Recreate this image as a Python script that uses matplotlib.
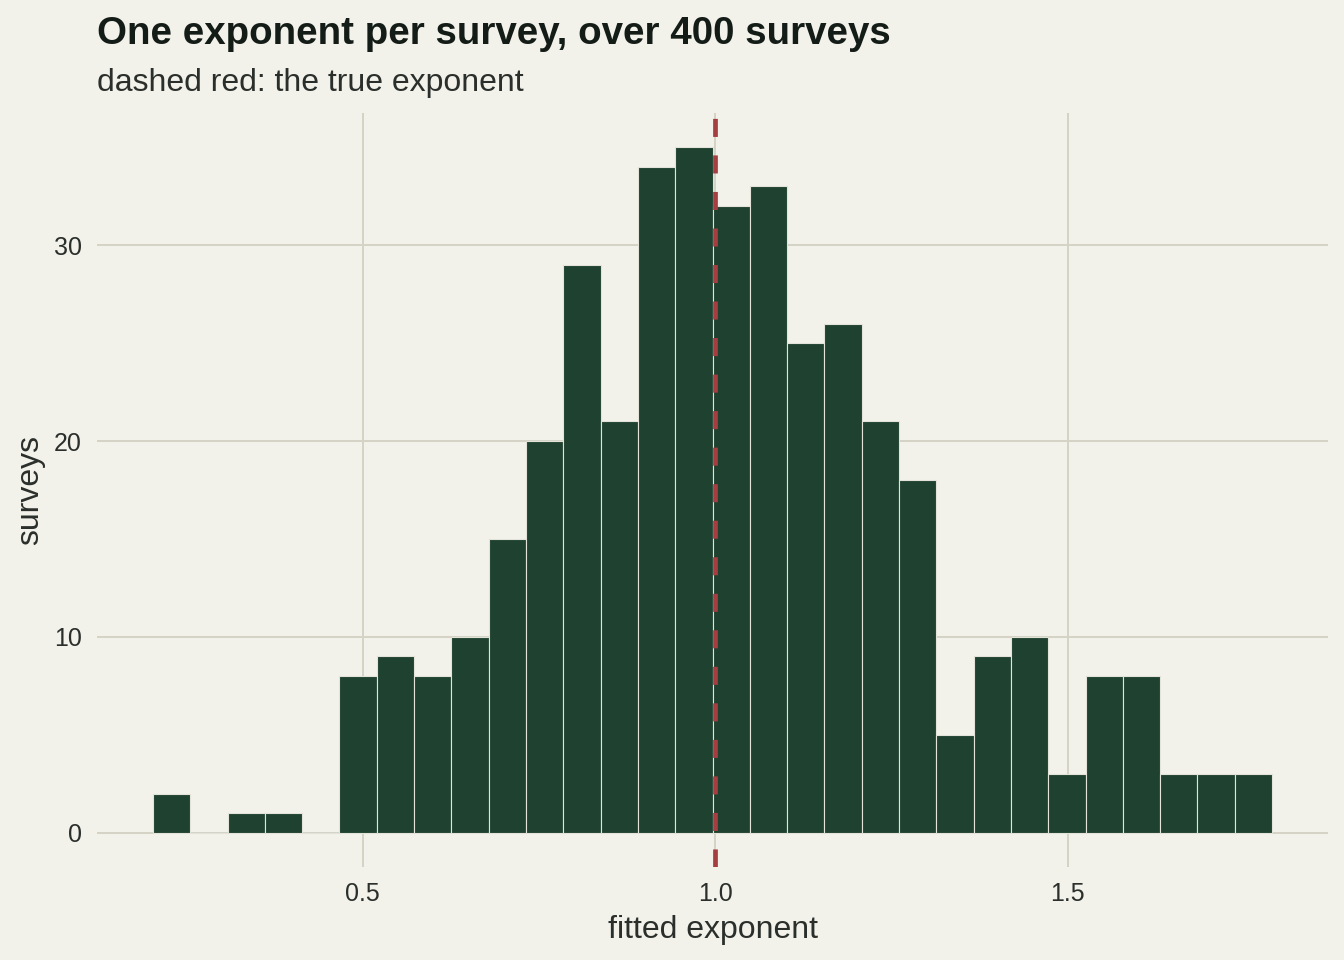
import matplotlib
matplotlib.use("Agg")
import matplotlib.pyplot as plt
import numpy as np

# histogram: 30 bins, 400 surveys
bin_start = 0.2022
bin_width = 0.05293
counts = [2, 0, 1, 1, 0, 8, 9, 8, 10, 15,
          20, 29, 21, 34, 35, 32, 33, 25, 26, 21,
          18, 5, 9, 10, 3, 8, 8, 3, 3, 3]
true_exponent = 1.0
x_ticks = [0.5, 1.0, 1.5]
y_ticks = [0, 10, 20, 30]

title = "One exponent per survey, over 400 surveys"
subtitle = "dashed red: the true exponent"
x_label = "fitted exponent"
y_label = "surveys"

bg = "#F2F1EA"
bar_col = "#1F4130"
grid_col = "#D4D3C5"
red = "#A63D40"
txt_dark = "#141C17"
txt = "#2A2F2B"

plt.rcParams['font.family'] = ['Liberation Sans', 'DejaVu Sans']
plt.rcParams['lines.scale_dashes'] = False

fig = plt.figure(figsize=(13.44, 9.6), dpi=100, facecolor=bg)
ax = fig.add_axes([97 / 1344, 1 - 867 / 960, (1328 - 97) / 1344, (867 - 113) / 960])
ax.set_facecolor(bg)

edges = bin_start + bin_width * np.arange(len(counts) + 1)
ax.bar(edges[:-1], counts, width=bin_width, align='edge', color=bar_col,
       edgecolor='#E4E3D9', linewidth=0.8, zorder=2)

ax.axvline(true_exponent, color=red, linewidth=3.4, dashes=(13, 13.3), zorder=3)

# ggplot-like 5% expansion
span = edges[-1] - edges[0]
ax.set_xlim(edges[0] - 0.05 * span, edges[-1] + 0.05 * span)
ax.set_ylim(-0.05 * max(counts), 1.05 * max(counts))

ax.set_xticks(x_ticks)
ax.set_xticklabels([f"{v:.1f}" for v in x_ticks])
ax.set_yticks(y_ticks)
ax.grid(True, color=grid_col, linewidth=1.4, zorder=0)
ax.set_axisbelow(True)
ax.tick_params(length=0, labelsize=18, colors=txt, pad=11)
for s in ax.spines.values():
    s.set_visible(False)

ax.set_xlabel(x_label, fontsize=23, color=txt, labelpad=6)
ax.set_ylabel(y_label, fontsize=23, color=txt, labelpad=6)

fig.text(97 / 1344, 1 - 44 / 960, title, fontsize=27.7, fontweight='bold',
         color=txt_dark, va='baseline', ha='left')
fig.text(97 / 1344, 1 - 90.5 / 960, subtitle, fontsize=23, color=txt,
         va='baseline', ha='left')

fig.savefig("out.png", dpi=100, facecolor=bg)
